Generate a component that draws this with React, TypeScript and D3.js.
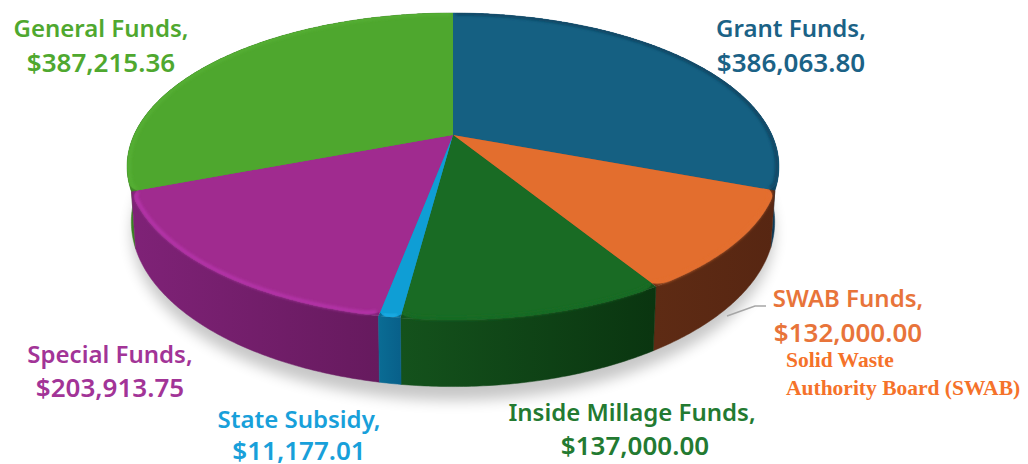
import React from "react";
import * as d3 from "d3";

const categories = ["Grant Funds", "SWAB Funds", "Inside Millage Funds", "State Subsidy", "Special Funds", "General Funds"];
const amounts = [386063.8, 132000, 137000, 11177.01, 203913.75, 387215.36];
const amountLabels = ["$386,063.80", "$132,000.00", "$137,000.00", "$11,177.01", "$203,913.75", "$387,215.36"];
const topColors = ["#156082", "#E36E2E", "#196B24", "#0F9ED5", "#A02B8F", "#4EA72E"];
const rimColors = ["#0E3F5C", "#E36E2E", "#196B24", "#1CAEE8", "#B835AE", "#57B035"];
const wallLeft = ["#0F4563", "#5E2B14", "#14521C", "#0A6C94", "#7F2277", "#3A8022"];
const wallRight = ["#0D3B58", "#572612", "#0A3510", "#08608A", "#661A5E", "#3A8022"];
const labelColors = ["#1B6286", "#E8743A", "#237A31", "#18A0DA", "#A23497", "#4FA82F"];
const labelCentres: [number, number][] = [[791, 37], [848, 307], [632, 421], [299, 428], [110, 363], [101, 37]];
const lineGaps = [35, 35, 34, 32, 34, 35];

const W = 1028, H = 464;
const cx = 453, cy = 135, Rx = 319, Ry = 147, persp = 0.205, depth = 53, shrink = 0.987;

const pieGen = d3.pie<number>().sort(null).value((d) => d);
const arcs = pieGen(amounts);

const project = (a: number, r = 1, z = 0): [number, number] => {
  const u = Math.sin(a) * r, v = -Math.cos(a) * r;
  const k = 1 / (1 - persp * v);
  const s = 1 - (1 - shrink) * (z / depth);
  return [cx + Rx * u * k * s, cy + Ry * v * k + z * k];
};
const sampleAngles = (a0: number, a1: number) => {
  const n = Math.max(2, Math.ceil((a1 - a0) / 0.01));
  return d3.range(n + 1).map((i) => a0 + ((a1 - a0) * i) / n);
};
const line = d3.line<[number, number]>();

// Slice corners are rounded where they sit on a visible wall, at the front of the pie.
const frontFrom = (100 * Math.PI) / 180, frontTo = (260 * Math.PI) / 180;
const cornerDrop = 0.016;
const edgeRadius = (a: number, a0: number, a1: number) => {
  if (a < frontFrom || a > frontTo) return 1;
  const w = Math.min(0.05, (a1 - a0) / 2.5);
  const t = Math.max(0, 1 - Math.min(a - a0, a1 - a) / w);
  return 1 - cornerDrop * t * t;
};
const fullFace = (a0: number, a1: number) =>
  line([[cx, cy], ...sampleAngles(a0, a1).map((a) => project(a))]) + "Z";
const facePath = (a0: number, a1: number) =>
  line([[cx, cy], ...sampleAngles(a0, a1).map((a) => project(a, edgeRadius(a, a0, a1)))]) + "Z";
const wallPath = (a0: number, a1: number) => {
  const t = sampleAngles(a0, a1);
  return line([...t.map((a) => project(a)), ...t.slice().reverse().map((a) => project(a, 1, depth))]) + "Z";
};
const rimPath = (a0: number, a1: number) =>
  line(sampleAngles(a0 + 0.01, a1 - 0.01).map((a) => project(a, edgeRadius(a, a0, a1) - 0.006))) ?? "";
const shadowPath = () => line(sampleAngles(0, Math.PI * 2).map((a) => project(a, 1, depth + 11))) + "Z";

const backFirst = arcs.map((_, i) => i).sort((p, q) => {
  const mid = (i: number) => Math.abs((arcs[i].startAngle + arcs[i].endAngle) / 2 - Math.PI);
  return mid(q) - mid(p);
});

export default function App() {
  const sans = "'Noto Sans', 'Open Sans', sans-serif";
  return (
    <svg width={W} height={H} viewBox={`0 0 ${W} ${H}`} style={{ position: "absolute", left: 0, top: 0, background: "#fff" }}>
      <defs>
        <filter id="shadow" x="-20%" y="-20%" width="140%" height="140%"><feGaussianBlur stdDeviation="7" /></filter>
        <filter id="rim" x="-10%" y="-10%" width="120%" height="120%"><feGaussianBlur stdDeviation="1.4" /></filter>
        <clipPath id="body">
          {arcs.map((d, i) => <path key={`f${i}`} d={fullFace(d.startAngle, d.endAngle)} />)}
          {arcs.map((d, i) => <path key={`w${i}`} d={wallPath(d.startAngle, d.endAngle)} />)}
        </clipPath>
        {arcs.map((d, i) => {
          const xs = sampleAngles(d.startAngle, d.endAngle).map((a) => project(a)[0]);
          return (
            <linearGradient key={i} id={`wall${i}`} gradientUnits="userSpaceOnUse" x1={d3.min(xs)} x2={d3.max(xs)} y1={0} y2={0}>
              <stop offset="0" stopColor={wallLeft[i]} />
              <stop offset="1" stopColor={wallRight[i]} />
            </linearGradient>
          );
        })}
      </defs>
      <path d={shadowPath()} fill="#000" opacity={0.22} filter="url(#shadow)" />
      {backFirst.map((i) => (
        <path key={i} d={wallPath(arcs[i].startAngle, arcs[i].endAngle)} fill={`url(#wall${i})`} stroke={`url(#wall${i})`} strokeWidth={0.5} />
      ))}
      {arcs.map((d, i) => (
        <path key={i} d={fullFace(d.startAngle, d.endAngle)} fill={wallLeft[i]} />
      ))}
      {arcs.map((d, i) => (
        <path key={i} d={facePath(d.startAngle, d.endAngle)} fill={topColors[i]} />
      ))}
      <g clipPath="url(#body)">
        {arcs.map((d, i) => (
          <path key={i} d={rimPath(d.startAngle, d.endAngle)} fill="none" stroke={rimColors[i]} strokeWidth={3} filter="url(#rim)" />
        ))}
      </g>
      <polyline points="727,316 755,306 766,306" fill="none" stroke="#A6A6A6" strokeWidth={1.5} />
      {categories.map((c, i) => (
        <text key={c} textAnchor="middle" fontFamily={sans} fontWeight={600} fill={labelColors[i]}>
          <tspan x={labelCentres[i][0]} y={labelCentres[i][1]} fontSize={24}>{c},</tspan>
          <tspan x={labelCentres[i][0] + (i === 2 ? 3 : 0)} y={labelCentres[i][1] + lineGaps[i]} fontSize={26}>{amountLabels[i]}</tspan>
        </text>
      ))}
      <text fontFamily="'Liberation Serif', serif" fontWeight={700} fontSize={21.5} fill="#F5722A">
        <tspan x={786} y={367}>Solid Waste</tspan>
        <tspan x={786} y={395}>Authority Board (SWAB)</tspan>
      </text>
    </svg>
  );
}
